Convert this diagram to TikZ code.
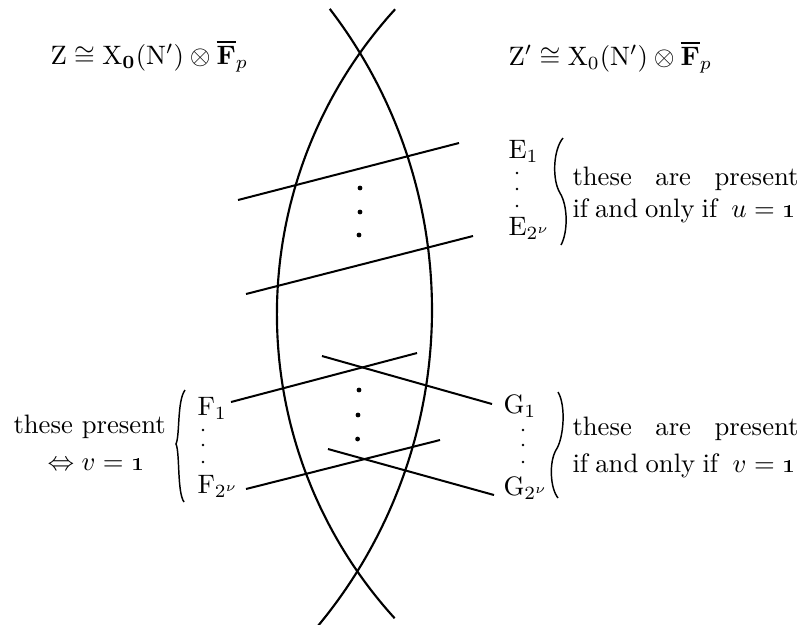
\documentclass[tikz,border=0pt]{standalone}
\usepackage{amsmath,amssymb}
\begin{document}
\begin{tikzpicture}[x=0.375pt,y=-0.375pt,
  lbl/.style={inner sep=0pt,anchor=base west,font=\fontsize{10}{12}\selectfont},
  curve/.style={line width=0.8pt},
  seg/.style={line width=0.75pt},
  brc/.style={line width=0.55pt},
  bigdot/.style={fill=black,circle,inner sep=0pt,minimum size=1.8pt},
  smalldot/.style={fill=black,circle,inner sep=0pt,minimum size=1.0pt}]
\useasboundingbox (0,0) rectangle (801,624);
% the two arcs (circular)
\draw[curve] plot[domain=-42.4:42.3,samples=120,smooth] ({728.9-452*cos(\x)},{314+452*sin(\x)});
\draw[curve] plot[domain=-37.5:39.9,samples=120,smooth] ({-62.7+494.7*cos(\x)},{310+494.7*sin(\x)});
% titles
\node[lbl] (zl) at (50,64) {$\mathrm{Z}\cong\mathrm{X}_{\mathbf{0}}(\mathrm{N}')\otimes\overline{\mathbf{F}}_p$};
\node[lbl] (zr) at (508,65) {$\mathrm{Z}'\cong\mathrm{X}_0(\mathrm{N}')\otimes\overline{\mathbf{F}}_p$};
% E lines
\coordinate (e1a) at (238,200); \coordinate (e1b) at (459,143);
\coordinate (e2a) at (246,294); \coordinate (e2b) at (473,236);
\draw[seg] (e1a) -- (e1b);
\draw[seg] (e2a) -- (e2b);
\node[bigdot] (d1) at (360,188) {};
\node[bigdot] (d2) at (360,212) {};
\node[bigdot] (d3) at (359,235) {};
% F and G lines
\coordinate (f1a) at (231,402); \coordinate (f1b) at (417,353);
\coordinate (g1a) at (322,356); \coordinate (g1b) at (492,404);
\coordinate (f2a) at (246,489); \coordinate (f2b) at (440,440);
\coordinate (g2a) at (328,449); \coordinate (g2b) at (494,495);
\draw[seg] (f1a) -- (f1b);
\draw[seg] (g1a) -- (g1b);
\draw[seg] (f2a) -- (f2b);
\draw[seg] (g2a) -- (g2b);
\node[bigdot] (d4) at (359,390) {};
\node[bigdot] (d5) at (358,415) {};
\node[bigdot] (d6) at (357.6,439) {};
% E labels
\node[lbl] (E1) at (508,158) {$\mathrm{E}_1$};
\node[smalldot] (ed1) at (517,173) {};
\node[smalldot] (ed2) at (517,189) {};
\node[smalldot] (ed3) at (517,206) {};
\node[lbl] (E2) at (508,235) {$\mathrm{E}_{2^\nu}$};
\draw[brc] (563,138) .. controls (553,150) and (552,180) .. (560,193) .. controls (568,206) and (568,232) .. (561,245);
\node[lbl] (et1) at (572,185) {\makebox[84.75pt][s]{these are present}};
\node[lbl] (et2) at (572,217) {\makebox[83.6pt][s]{if and only if\ \ $u=\mbox{\oldstylenums{1}}$}};
% F labels
\node[lbl] (F1) at (197,415) {$\mathrm{F}_1$};
\node[smalldot] (fd1) at (203,430) {};
\node[smalldot] (fd2) at (203,445) {};
\node[smalldot] (fd3) at (203,462) {};
\node[lbl] (F2) at (197,493) {$\mathrm{F}_{2^\nu}$};
\draw[brc] (185,390) .. controls (177,401) and (180,435) .. (176,444) .. controls (180,453) and (177,492) .. (184,502);
\node[lbl] (ft1) at (13,433) {these present};
\node[lbl] (ft2) at (47,470) {$\Leftrightarrow v=\mbox{\oldstylenums{1}}$};
% G labels
\node[lbl] (G1) at (503,413) {$\mathrm{G}_1$};
\node[smalldot] (gd1) at (523,430) {};
\node[smalldot] (gd2) at (523,445) {};
\node[smalldot] (gd3) at (523,462) {};
\node[lbl] (G2) at (503,495) {$\mathrm{G}_{2^\nu}$};
\draw[brc] (558,392) .. controls (566,405) and (564,438) .. (556,450) .. controls (549,462) and (550,488) .. (558,498);
\node[lbl] (gt1) at (572,435) {\makebox[84.75pt][s]{these are present}};
\node[lbl] (gt2) at (572,472) {\makebox[83.6pt][s]{if and only if\ \ $v=\mbox{\oldstylenums{1}}$}};
\end{tikzpicture}
\end{document}
